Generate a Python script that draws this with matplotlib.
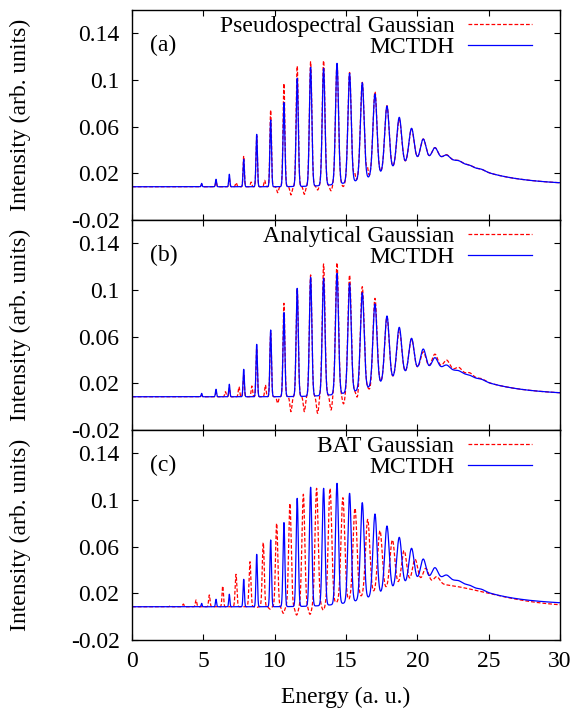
import numpy as np
import matplotlib
matplotlib.use("Agg")
import matplotlib.pyplot as plt

plt.rcParams['font.family'] = ['Liberation Serif', 'DejaVu Serif']
plt.rcParams['font.size'] = 17

# --- values ------------------------------------------------------------
# MCTDH spectrum (identical in the three panels): peak position, peak top, width
mctdh_pos = [4.88, 5.89, 6.82, 7.83, 8.74, 9.72, 10.65, 11.58, 12.52, 13.43, 14.37, 15.25,
             16.14, 17.03, 17.87, 18.73, 19.59, 20.41, 21.23, 22.05, 22.91, 23.68, 24.5]
mctdh_top = [0.0114, 0.0149, 0.0192, 0.032, 0.0534, 0.0657, 0.0806, 0.1014, 0.1109, 0.110, 0.1143, 0.1057,
             0.0977, 0.088, 0.0777, 0.068, 0.0586, 0.0494, 0.042, 0.0357, 0.0308, 0.0269, 0.0235]
mctdh_sig = [0.035, 0.04, 0.04, 0.045, 0.05, 0.055, 0.065, 0.075, 0.085, 0.095, 0.105, 0.115,
             0.13, 0.14, 0.155, 0.17, 0.18, 0.19, 0.2, 0.21, 0.22, 0.23, 0.25]
# smooth background: base, hump top, hump centre, left width, right width, tail shape
mctdh_bg = (0.0085, 0.033, 21.5, 3.25, 3.43, 'lorentz')

# (a) pseudospectral Gaussian: peak tops at the MCTDH positions + extra dips/bumps
pseudo_top = [0.0105, 0.013, 0.016, 0.0349, 0.052, 0.0743, 0.0971, 0.112, 0.1157, 0.1166, 0.1143, 0.1065,
              0.098, 0.090, 0.078, 0.066, 0.058, 0.0494, 0.042, 0.036, 0.031, 0.027, 0.0235]
pseudo_xpos = [7.3, 8.35, 9.3, 10.21, 11.14, 12.08, 13.01, 13.95, 14.81, 15.6, 16.5]
pseudo_xval = [0.012, 0.0125, 0.014, 0.0034, 0.0015, 0.002, 0.0057, 0.005, 0.0086, 0.020, 0.024]
pseudo_xsig = [0.05, 0.05, 0.05, 0.06, 0.07, 0.07, 0.07, 0.08, 0.08, 0.06, 0.06]

# (b) analytical Gaussian
analyt_top = [0.010, 0.012, 0.016, 0.028, 0.050, 0.063, 0.0886, 0.1014, 0.1129, 0.1223, 0.1234, 0.1129,
              0.1029, 0.0929, 0.077, 0.066, 0.058, 0.047, 0.045, 0.040, 0.0337, 0.029, 0.024]
analyt_xpos = [6.55, 7.5, 8.4, 9.35, 10.21, 11.14, 12.08, 13.01, 13.95, 14.83, 15.82, 16.72]
analyt_xval = [0.0128, 0.0171, 0.0177, 0.0186, 0.0029, -0.0043, -0.0043, -0.0057, -0.0029, 0.0023, 0.0057, 0.0128]
analyt_xsig = [0.05, 0.05, 0.05, 0.05, 0.06, 0.07, 0.07, 0.08, 0.08, 0.09, 0.09, 0.1]

# (c) BAT Gaussian: its own peak positions
bat_pos = [2.7, 3.6, 4.49, 5.42, 6.36, 7.29, 8.27, 9.2, 10.14, 11.07, 12.01, 12.94,
           13.88, 14.78, 15.63, 16.52, 17.38, 18.25, 19.07, 19.84, 20.59, 21.36]
bat_top = [0.0095, 0.0108, 0.0143, 0.0186, 0.0263, 0.0363, 0.0471, 0.0634, 0.080, 0.0971, 0.1049, 0.110,
           0.110, 0.102, 0.0929, 0.0834, 0.0737, 0.0657, 0.0566, 0.0491, 0.0414, 0.0343]
bat_sig = [0.05, 0.05, 0.05, 0.05, 0.05, 0.06, 0.065, 0.07, 0.08, 0.09, 0.1, 0.11,
           0.12, 0.13, 0.14, 0.15, 0.16, 0.17, 0.18, 0.19, 0.2, 0.21]
bat_xpos = [8.75, 9.67, 10.6, 11.54, 12.48, 13.41]
bat_xval = [0.008, 0.0065, 0.0029, 0.0014, 0.002, 0.0057]
bat_xsig = [0.07, 0.08, 0.09, 0.1, 0.1, 0.1]
bat_bg = (0.0085, 0.0285, 20.5, 3.3, 4.28, 'gauss')

panel_tags = ['(a)', '(b)', '(c)']
method_names = ['Pseudospectral Gaussian', 'Analytical Gaussian', 'BAT Gaussian']
ytick_vals = [-0.02, 0.02, 0.06, 0.1, 0.14]
ytick_text = ['-0.02', '0.02', '0.06', '0.1', '0.14']
xtick_vals = [0, 5, 10, 15, 20, 25, 30]


def background(e, base, top, centre, left, right, tail):
    d = np.asarray(e, dtype=float) - centre
    lo = np.exp(-0.5 * (d / left) ** 2)
    if tail == 'lorentz':
        hi = 1.0 / (1.0 + (d / right) ** 2)
    else:
        hi = np.exp(-0.5 * (d / right) ** 2)
    return base + (top - base) * np.where(d < 0, lo, hi)


def add_peaks(e, y, bg, pos, val, sig):
    # each feature reaches the read value at its position (above or below the background)
    for p, v, s in zip(pos, val, sig):
        a = v - background(p, *bg)
        y = y + a * np.exp(-0.5 * ((e - p) / s) ** 2)
    return y


energy = np.linspace(0, 30, 6001)

mctdh = add_peaks(energy, background(energy, *mctdh_bg), mctdh_bg, mctdh_pos, mctdh_top, mctdh_sig)

pseudo = add_peaks(energy, background(energy, *mctdh_bg), mctdh_bg, mctdh_pos, pseudo_top, mctdh_sig)
pseudo = add_peaks(energy, pseudo, mctdh_bg, pseudo_xpos, pseudo_xval, pseudo_xsig)

analyt = add_peaks(energy, background(energy, *mctdh_bg), mctdh_bg, mctdh_pos, analyt_top, mctdh_sig)
analyt = add_peaks(energy, analyt, mctdh_bg, analyt_xpos, analyt_xval, analyt_xsig)

bat = add_peaks(energy, background(energy, *bat_bg), bat_bg, bat_pos, bat_top, bat_sig)
bat = add_peaks(energy, bat, bat_bg, bat_xpos, bat_xval, bat_xsig)

gauss_curves = [pseudo, analyt, bat]

# --- figure ------------------------------------------------------------
fig = plt.figure(figsize=(5.76, 7.09), dpi=100)
left, width, height = 132 / 576, 428 / 576, 210 / 709
bottoms = [489 / 709, 279 / 709, 69 / 709]

for i in range(3):
    ax = fig.add_axes([left, bottoms[i], width, height])
    ax.plot(energy, gauss_curves[i], color='#ff0000', lw=0.9, dashes=(3, 1.6),
            label=method_names[i])
    ax.plot(energy, mctdh, color='#0000ff', lw=0.9, label='MCTDH')

    ax.set_xlim(0, 30)
    ax.set_ylim(-0.02, 0.16)
    ax.set_xticks(xtick_vals)
    ax.set_yticks(ytick_vals)
    ax.set_yticklabels(ytick_text)
    ax.tick_params(direction='in', top=True, right=True, length=4, width=0.8,
                   labelsize=17)
    ax.tick_params(axis='y', pad=9)
    ax.tick_params(axis='x', pad=8)
    for sp in ax.spines.values():
        sp.set_linewidth(1.0)

    if i < 2:
        ax.tick_params(labelbottom=False)
    else:
        ax.set_xlabel('Energy (a. u.)', fontsize=17)
        ax.xaxis.set_label_coords(0.5, -0.225)

    ax.set_ylabel('Intensity (arb. units)', fontsize=17)
    ax.yaxis.set_label_coords(-0.235, 0.5)

    ax.text(0.043, 0.83, panel_tags[i], transform=ax.transAxes, fontsize=17,
            ha='left', va='center')

    ax.legend(loc='upper right', bbox_to_anchor=(0.935, 0.975), frameon=False,
              markerfirst=False, handlelength=2.7, handletextpad=0.6,
              labelspacing=0.0, borderpad=0, borderaxespad=0, fontsize=17)

plt.savefig('out.png', dpi=100)
